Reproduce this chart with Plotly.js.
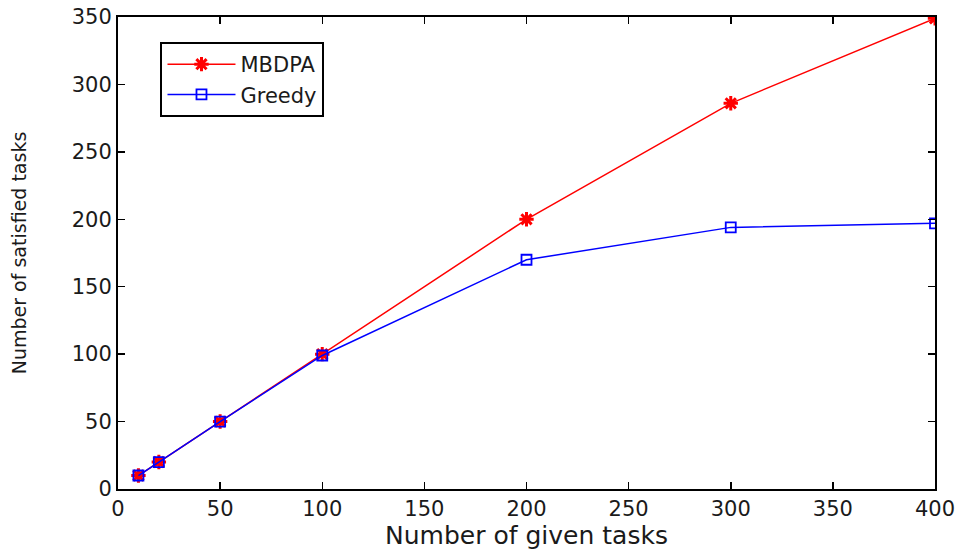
<!DOCTYPE html>
<html>
<head>
<meta charset="utf-8">
<script src="https://cdn.plot.ly/plotly-3.0.1.min.js"></script>
<style>html,body{margin:0;padding:0;background:#fff;}#chart{width:963px;height:552px;}</style>
</head>
<body>
<div id="chart"></div>
<script>
const tasks = [10, 20, 50, 100, 200, 300, 400];
const mbdpa = [10, 20, 50, 100, 200, 286, 349];
const greedy = [10, 20, 50, 99, 170, 194, 197];
const xTicks = [0, 50, 100, 150, 200, 250, 300, 350, 400];
const yTicks = [0, 50, 100, 150, 200, 250, 300, 350];

const fam = 'DejaVu Sans, Arial, sans-serif';
const f = (s) => ({family: fam, size: s, color: '#1a1a1a'});

const traces = [
  {x: tasks, y: mbdpa, name: 'MBDPA', mode: 'lines+markers',
   line: {color: '#ff0000', width: 1.5},
   marker: {symbol: 'asterisk-open', size: 12, color: '#ff0000', line: {color: '#ff0000', width: 3}}},
  {x: tasks, y: greedy, name: 'Greedy', mode: 'lines+markers',
   line: {color: '#0000ff', width: 1.5},
   marker: {symbol: 'square-open', size: 10, color: '#0000ff', line: {color: '#0000ff', width: 1.8}}}
];

const axisCommon = {
  showgrid: false, zeroline: false, showline: true, mirror: 'ticks',
  linecolor: '#000', linewidth: 2, ticks: 'inside', ticklen: 7, tickwidth: 1.5, tickcolor: '#000',
  tickfont: f(21), automargin: false
};

const layout = {
  width: 963, height: 552,
  margin: {l: 118, r: 28, t: 17, b: 63},
  paper_bgcolor: '#fff', plot_bgcolor: '#fff',
  showlegend: true,
  legend: {x: 0.052, y: 0.947, xanchor: 'left', yanchor: 'top',
    bgcolor: '#fff', bordercolor: '#000', borderwidth: 2,
    font: f(21), tracegroupgap: 0, itemwidth: 68},
  xaxis: Object.assign({}, axisCommon, {range: [0, 400], tickvals: xTicks, ticktext: xTicks.map(String),
    title: {text: 'Number of given tasks', font: f(25), standoff: 6}}),
  yaxis: Object.assign({}, axisCommon, {range: [0, 350], tickvals: yTicks, ticktext: yTicks.map(String),
    title: {text: 'Number of satisfied tasks', font: f(19), standoff: 40}})
};

Plotly.newPlot('chart', traces, layout, {displayModeBar: false, staticPlot: true});
</script>
</body>
</html>
